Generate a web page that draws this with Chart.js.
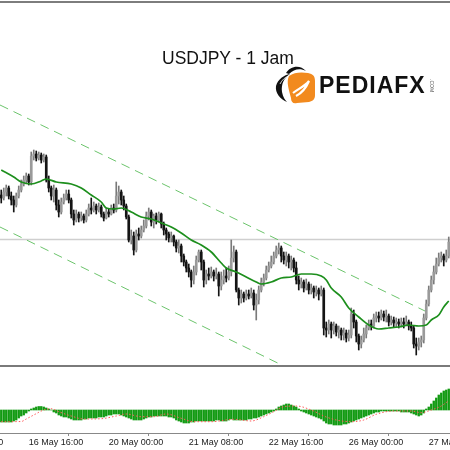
<!DOCTYPE html>
<html><head><meta charset="utf-8">
<script src="https://cdn.jsdelivr.net/npm/chart.js@4.4.1/dist/chart.umd.min.js"></script>
<style>
html,body{margin:0;padding:0;background:#fff;width:450px;height:450px;overflow:hidden;}
#wrap{position:relative;width:450px;height:450px;overflow:hidden;}
#c1{position:absolute;left:0;top:0;}
#c2{position:absolute;left:0;top:367px;}
.hl{position:absolute;left:0;width:450px;}
#title{position:absolute;left:162px;top:50px;font:17.5px/17.5px "Liberation Sans",Arial,sans-serif;color:#111;white-space:nowrap;}
#brand{position:absolute;left:319px;top:74px;font:bold 23px/23px "Liberation Sans",Arial,sans-serif;letter-spacing:1px;color:#111;white-space:nowrap;}
#com{position:absolute;left:434px;top:79px;font:5px/5px "Liberation Sans",Arial,sans-serif;color:#555;transform:rotate(90deg);transform-origin:left top;white-space:nowrap;}
#logo{position:absolute;left:272px;top:62px;}
</style></head><body>
<div id="wrap">
<canvas id="c1" width="450" height="365"></canvas>
<canvas id="c2" width="450" height="83"></canvas>
<div class="hl" style="top:1px;height:2px;background:#7d7d7d"></div>
<div class="hl" style="top:365px;height:2px;background:#7a7a7a"></div>
<div id="title">USDJPY - 1 Jam</div>
<svg id="logo" width="48" height="44" viewBox="0 0 48 44">
  <path d="M14,11 C18,4 28,2 34,9 C28,6 22,7 17,12 Z" fill="#111"/>
  <path d="M4,24 C6,17 12,13 18,12 C12,16 9,22 10,30 C11,35 13,38 15,40 C8,37 3,31 4,24 Z" fill="#111"/>
  <path d="M8,22 C10,18 13,15 17,14" stroke="#fff" stroke-width="0.8" fill="none"/>
  <path d="M17,14 C22,10 30,10 36,11 C41,12 43,14 43,19 L43,33 C43,37 41,39 37,40 L25,41 C21,42 19,40 19,36 C17,28 14,20 17,14 Z" fill="#f28a1e"/>
  <path d="M21,31 C26,27 32,25 37,19 C34,26 30,31 24,34" stroke="#fff" stroke-width="2.2" fill="none"/>
</svg>
<div id="brand">PEDIAFX</div>
<div id="com">.COM</div>
</div>
<script>
// ---- data (hourly candles, USDJPY) ----
const candleOpen = [
146.05,146.02,146.08,146.12,146.04,146.00,145.95,146.04,146.10,146.16,
146.20,146.24,146.18,146.44,146.46,146.42,146.45,146.40,146.43,146.20,
146.12,146.04,146.10,145.95,145.88,145.98,146.02,146.06,146.00,145.86,
145.80,145.86,145.82,145.84,145.80,145.86,145.92,145.90,145.94,145.90,
145.93,145.86,145.82,145.88,145.86,145.92,145.90,146.04,146.08,146.00,
145.94,145.83,145.60,145.64,145.50,145.66,145.64,145.70,145.74,145.84,
145.88,145.78,145.84,145.80,145.86,145.76,145.70,145.66,145.62,145.64,
145.58,145.52,145.54,145.44,145.38,145.32,145.28,145.20,145.28,145.40,
145.48,145.38,145.20,145.26,145.24,145.28,145.24,145.26,145.14,145.20,
145.24,145.22,145.28,145.42,145.48,145.10,145.02,145.06,145.02,145.06,
145.04,145.07,144.95,145.00,145.10,145.18,145.22,145.30,145.34,145.38,
145.44,145.50,145.52,145.44,145.40,145.44,145.38,145.40,145.32,145.20,
145.16,145.18,145.12,145.16,145.10,145.12,145.08,145.10,145.06,145.10,
144.72,144.70,144.76,144.70,144.74,144.68,144.70,144.65,144.67,144.62,
144.65,144.86,144.78,144.64,144.56,144.60,144.66,144.72,144.76,144.74,
144.82,144.84,144.82,144.86,144.83,144.84,144.78,144.80,144.77,144.78,
144.76,144.78,144.76,144.78,144.74,144.72,144.56,144.54,144.58,144.60,
144.82,144.96,145.10,145.20,145.28,145.36,145.42,145.44,145.40,145.44];
const candleHigh = [
146.10,146.12,146.15,146.14,146.08,146.04,146.07,146.14,146.20,146.24,
146.27,146.26,146.48,146.50,146.49,146.48,146.47,146.46,146.45,146.24,
146.14,146.15,146.12,146.00,146.02,146.06,146.10,146.10,146.02,145.90,
145.90,145.88,145.88,145.86,145.90,145.96,146.02,145.98,145.96,145.97,
145.95,145.88,145.92,145.91,145.95,145.96,146.18,146.14,146.10,146.04,
145.96,145.85,145.70,145.68,145.70,145.72,145.74,145.80,145.88,145.92,
145.90,145.86,145.87,145.88,145.87,145.78,145.72,145.68,145.68,145.65,
145.60,145.60,145.56,145.46,145.40,145.36,145.30,145.34,145.44,145.50,
145.50,145.40,145.30,145.32,145.33,145.30,145.32,145.28,145.28,145.30,
145.32,145.34,145.60,145.54,145.50,145.12,145.10,145.08,145.10,145.10,
145.12,145.10,145.06,145.14,145.22,145.26,145.34,145.38,145.44,145.48,
145.54,145.57,145.54,145.48,145.48,145.46,145.44,145.42,145.38,145.24,
145.22,145.20,145.21,145.18,145.16,145.14,145.14,145.12,145.14,145.12,
144.78,144.80,144.78,144.78,144.76,144.74,144.72,144.72,144.70,144.70,
144.92,144.90,144.80,144.66,144.64,144.72,144.75,144.80,144.80,144.86,
144.88,144.88,144.90,144.89,144.90,144.86,144.84,144.83,144.82,144.81,
144.82,144.82,144.84,144.80,144.78,144.74,144.62,144.62,144.64,144.86,
145.00,145.14,145.24,145.34,145.42,145.47,145.48,145.46,145.50,145.63];
const candleLow = [
145.97,146.00,146.04,146.01,145.95,145.88,145.93,146.02,146.08,146.14,
146.17,146.15,146.15,146.40,146.39,146.40,146.37,146.38,146.18,146.08,
146.00,145.98,145.90,145.83,145.86,145.96,146.00,145.97,145.82,145.75,
145.78,145.78,145.79,145.77,145.78,145.84,145.86,145.88,145.86,145.88,
145.83,145.79,145.81,145.83,145.85,145.87,145.88,145.96,145.95,145.90,
145.81,145.58,145.56,145.45,145.48,145.60,145.62,145.68,145.72,145.80,
145.74,145.72,145.76,145.78,145.72,145.65,145.60,145.58,145.58,145.54,
145.48,145.47,145.38,145.34,145.28,145.23,145.13,145.16,145.25,145.38,
145.30,145.13,145.16,145.20,145.22,145.19,145.21,145.04,145.10,145.16,
145.18,145.20,145.24,145.38,145.08,144.95,144.97,144.98,145.00,145.01,
145.02,144.90,144.80,144.96,145.08,145.14,145.20,145.28,145.32,145.36,
145.42,145.46,145.38,145.36,145.34,145.32,145.30,145.28,145.16,145.10,
145.12,145.08,145.10,145.06,145.06,145.02,145.04,145.00,145.04,144.65,
144.63,144.66,144.62,144.66,144.64,144.62,144.60,144.60,144.58,144.59,
144.62,144.72,144.58,144.50,144.52,144.58,144.62,144.70,144.70,144.72,
144.78,144.78,144.80,144.79,144.78,144.74,144.75,144.73,144.73,144.72,
144.73,144.72,144.74,144.70,144.69,144.52,144.45,144.50,144.53,144.57,
144.80,144.94,145.08,145.16,145.26,145.34,145.38,145.34,145.38,145.42];
const candleClose = [
146.02,146.08,146.12,146.04,146.00,145.95,146.04,146.10,146.16,146.20,
146.24,146.18,146.44,146.46,146.42,146.45,146.40,146.43,146.20,146.12,
146.04,146.10,145.95,145.88,145.98,146.02,146.06,146.00,145.86,145.80,
145.86,145.82,145.84,145.80,145.86,145.92,145.90,145.94,145.90,145.93,
145.86,145.82,145.88,145.86,145.92,145.90,146.04,146.08,146.00,145.94,
145.83,145.60,145.64,145.50,145.66,145.64,145.70,145.74,145.84,145.88,
145.78,145.84,145.80,145.86,145.76,145.70,145.66,145.62,145.64,145.58,
145.52,145.54,145.44,145.38,145.32,145.28,145.20,145.28,145.40,145.48,
145.38,145.20,145.26,145.24,145.28,145.24,145.26,145.14,145.20,145.24,
145.22,145.28,145.42,145.48,145.10,145.02,145.06,145.02,145.06,145.04,
145.07,144.95,145.00,145.10,145.18,145.22,145.30,145.34,145.38,145.44,
145.50,145.52,145.44,145.40,145.44,145.38,145.40,145.32,145.20,145.16,
145.18,145.12,145.16,145.10,145.12,145.08,145.10,145.06,145.10,144.72,
144.70,144.76,144.70,144.74,144.68,144.70,144.65,144.67,144.62,144.65,
144.86,144.78,144.64,144.56,144.60,144.66,144.72,144.76,144.74,144.82,
144.84,144.82,144.86,144.83,144.84,144.78,144.80,144.77,144.78,144.76,
144.78,144.76,144.78,144.74,144.72,144.56,144.54,144.58,144.60,144.82,
144.96,145.10,145.20,145.28,145.36,145.42,145.44,145.40,145.44,145.58];

// moving average read at candle indices
const maIdx = [0,5,8,12,16,18,22,28,32,36,40,42,45,48,52,56,60,64,68,72,76,80,84,88,90,94,98,102,104,108,112,116,120,124,128,130,132,136,139,143,147,151,155,159,163,167,170,172,175,177,179];
const maVal = [146.30,146.23,146.18,146.16,146.19,146.21,146.18,146.16,146.12,146.05,145.98,145.92,145.91,145.92,145.88,145.83,145.81,145.77,145.73,145.67,145.60,145.55,145.48,145.37,145.32,145.28,145.23,145.18,145.16,145.18,145.22,145.23,145.26,145.26,145.24,145.20,145.12,145.03,144.92,144.83,144.75,144.71,144.72,144.73,144.75,144.74,144.75,144.80,144.85,144.93,144.99];

// channel lines (index, price) and horizontal level
const upperChannel = [[-0.5,146.95],[169.5,144.89]];
const lowerChannel = [[-0.5,145.73],[113,144.34]];
const levelPrice = 145.605;

// MACD histogram (per candle) and signal line
const macdHist = [
-0.12,-0.12,-0.12,-0.12,-0.12,
-0.11,-0.10,-0.08,-0.06,-0.05,-0.03,-0.01,
0.01,0.02,0.03,0.035,0.035,0.03,0.02,0.01,0.0,
-0.02,-0.03,-0.05,-0.06,-0.07,-0.07,-0.08,-0.09,-0.10,-0.10,-0.10,-0.10,
-0.09,-0.09,-0.08,-0.08,-0.08,-0.08,-0.07,-0.07,-0.07,-0.06,-0.05,-0.05,
-0.04,-0.04,-0.04,-0.05,-0.06,-0.07,
-0.08,-0.09,-0.10,-0.10,-0.10,-0.10,-0.09,
-0.08,-0.07,-0.07,-0.06,-0.06,-0.06,-0.06,-0.06,-0.06,-0.07,-0.07,-0.08,
-0.10,-0.11,-0.12,-0.13,-0.13,-0.13,-0.12,-0.12,
-0.11,-0.11,-0.11,-0.11,-0.11,-0.11,-0.11,-0.11,-0.10,-0.10,-0.11,-0.11,-0.11,-0.10,-0.09,
-0.10,-0.10,-0.10,-0.10,-0.10,-0.10,-0.09,-0.09,-0.08,-0.08,-0.07,-0.06,-0.05,-0.04,-0.03,-0.02,-0.01,
0.01,0.03,0.04,0.05,0.06,0.06,0.05,0.04,0.03,0.01,
-0.01,-0.02,-0.03,-0.04,-0.05,-0.06,-0.07,-0.08,-0.09,-0.11,-0.13,-0.14,-0.14,-0.15,-0.15,-0.15,-0.15,-0.14,
-0.14,-0.13,-0.12,-0.11,-0.10,-0.09,-0.08,-0.07,-0.06,-0.05,-0.04,-0.03,-0.02,
-0.02,-0.01,-0.01,-0.01,-0.01,-0.01,-0.01,-0.01,-0.01,-0.02,-0.02,-0.02,-0.02,-0.03,
-0.04,-0.05,-0.06,-0.05,-0.03,
0.01,0.03,0.06,0.09,0.12,0.15,0.17,0.19,0.20,0.21];
const sigIdx = [0,8,10,13,17,20,23,28,33,40,46,50,56,61,66,72,77,84,93,100,105,109,113,118,124,129,134,140,145,150,157,164,168,172,176,179];
const sigVal = [-0.117,-0.115,-0.09,-0.05,0.0,0.013,-0.017,-0.06,-0.09,-0.087,-0.06,-0.04,-0.067,-0.067,-0.04,-0.083,-0.117,-0.117,-0.093,-0.11,-0.067,-0.017,0.033,0.04,0.0,-0.06,-0.10,-0.117,-0.10,-0.043,-0.01,-0.01,-0.027,0.0,0.04,0.093];

// time axis ticks
const tickIdx = [-21,11,43,75,107,139,171];
const tickLabels = ['15 May 08:00','16 May 16:00','20 May 00:00','21 May 08:00','22 May 16:00','26 May 00:00','27 May 08:00'];

// ---- build ----
const idx = candleClose.map((_, i) => i);
const isBull = idx.map(i => candleClose[i] >= candleOpen[i]);
const bodyColors = isBull.map(b => b ? '#9a9a9a' : '#141414');
const wickColors = isBull.map(b => b ? '#7a7a7a' : '#141414');

Chart.defaults.animation = false;
const xMin = -0.5, xMax = 179.5;

new Chart(document.getElementById('c1'), {
  type: 'bar',
  data: {
    datasets: [
      { type: 'line', order: 0, data: maIdx.map((x, k) => ({x, y: maVal[k]})),
        borderColor: '#1d8f1d', borderWidth: 1.7, pointRadius: 0, cubicInterpolationMode: 'monotone', fill: false },
      { type: 'bar', order: 1, grouped: false, data: idx.map(i => ({x: i, y: [candleOpen[i], candleClose[i]]})),
        backgroundColor: bodyColors, barThickness: 2, minBarLength: 1, borderWidth: 0 },
      { type: 'bar', order: 2, grouped: false, data: idx.map(i => ({x: i, y: [candleLow[i], candleHigh[i]]})),
        backgroundColor: wickColors, barThickness: 1, borderWidth: 0 },
      { type: 'line', order: 3, data: upperChannel.map(p => ({x: p[0], y: p[1]})),
        borderColor: '#6cc46c', borderWidth: 1, borderDash: [9, 6], pointRadius: 0 },
      { type: 'line', order: 4, data: lowerChannel.map(p => ({x: p[0], y: p[1]})),
        borderColor: '#6cc46c', borderWidth: 1, borderDash: [9, 6], pointRadius: 0 },
      { type: 'line', order: 5, data: [{x: xMin, y: levelPrice}, {x: xMax, y: levelPrice}],
        borderColor: '#cfcfcf', borderWidth: 1.5, pointRadius: 0 }
    ]
  },
  options: {
    responsive: false, events: [],
    layout: { padding: 0 },
    plugins: { legend: { display: false }, tooltip: { enabled: false } },
    scales: {
      x: { type: 'linear', min: xMin, max: xMax, offset: false, display: false },
      y: { type: 'linear', min: 144.35, max: 148.00, display: false }
    }
  }
});

new Chart(document.getElementById('c2'), {
  type: 'bar',
  data: {
    datasets: [
      { type: 'line', order: 0, data: sigIdx.map((x, k) => ({x, y: sigVal[k]})),
        borderColor: '#ff5a5a', borderWidth: 1, borderDash: [1.5, 2], pointRadius: 0, cubicInterpolationMode: 'monotone' },
      { type: 'bar', order: 1, data: idx.map(i => ({x: i, y: macdHist[i]})),
        backgroundColor: '#129a12', barThickness: 1.7, borderWidth: 0 }
    ]
  },
  options: {
    responsive: false, events: [],
    layout: { padding: 0 },
    plugins: { legend: { display: false }, tooltip: { enabled: false } },
    scales: {
      x: { type: 'linear', min: xMin, max: xMax, offset: false,
        afterBuildTicks: s => { s.ticks = tickIdx.map(v => ({value: v})); },
        afterFit: s => { s.height = 17; s.paddingLeft = 0; s.paddingRight = 0; s.paddingTop = 0; s.paddingBottom = 0; },
        border: { display: true, color: '#888', width: 1 },
        grid: { display: true, drawOnChartArea: false, drawTicks: true, tickLength: 3, color: '#888' },
        ticks: { autoSkip: false, maxRotation: 0, minRotation: 0, align: 'start', padding: 1,
          color: '#222', font: { family: 'Liberation Sans', size: 9 },
          callback: (v, i) => tickLabels[i] }
      },
      y: { type: 'linear', min: -0.23, max: 0.43, display: false }
    }
  }
});
</script>
</body></html>
